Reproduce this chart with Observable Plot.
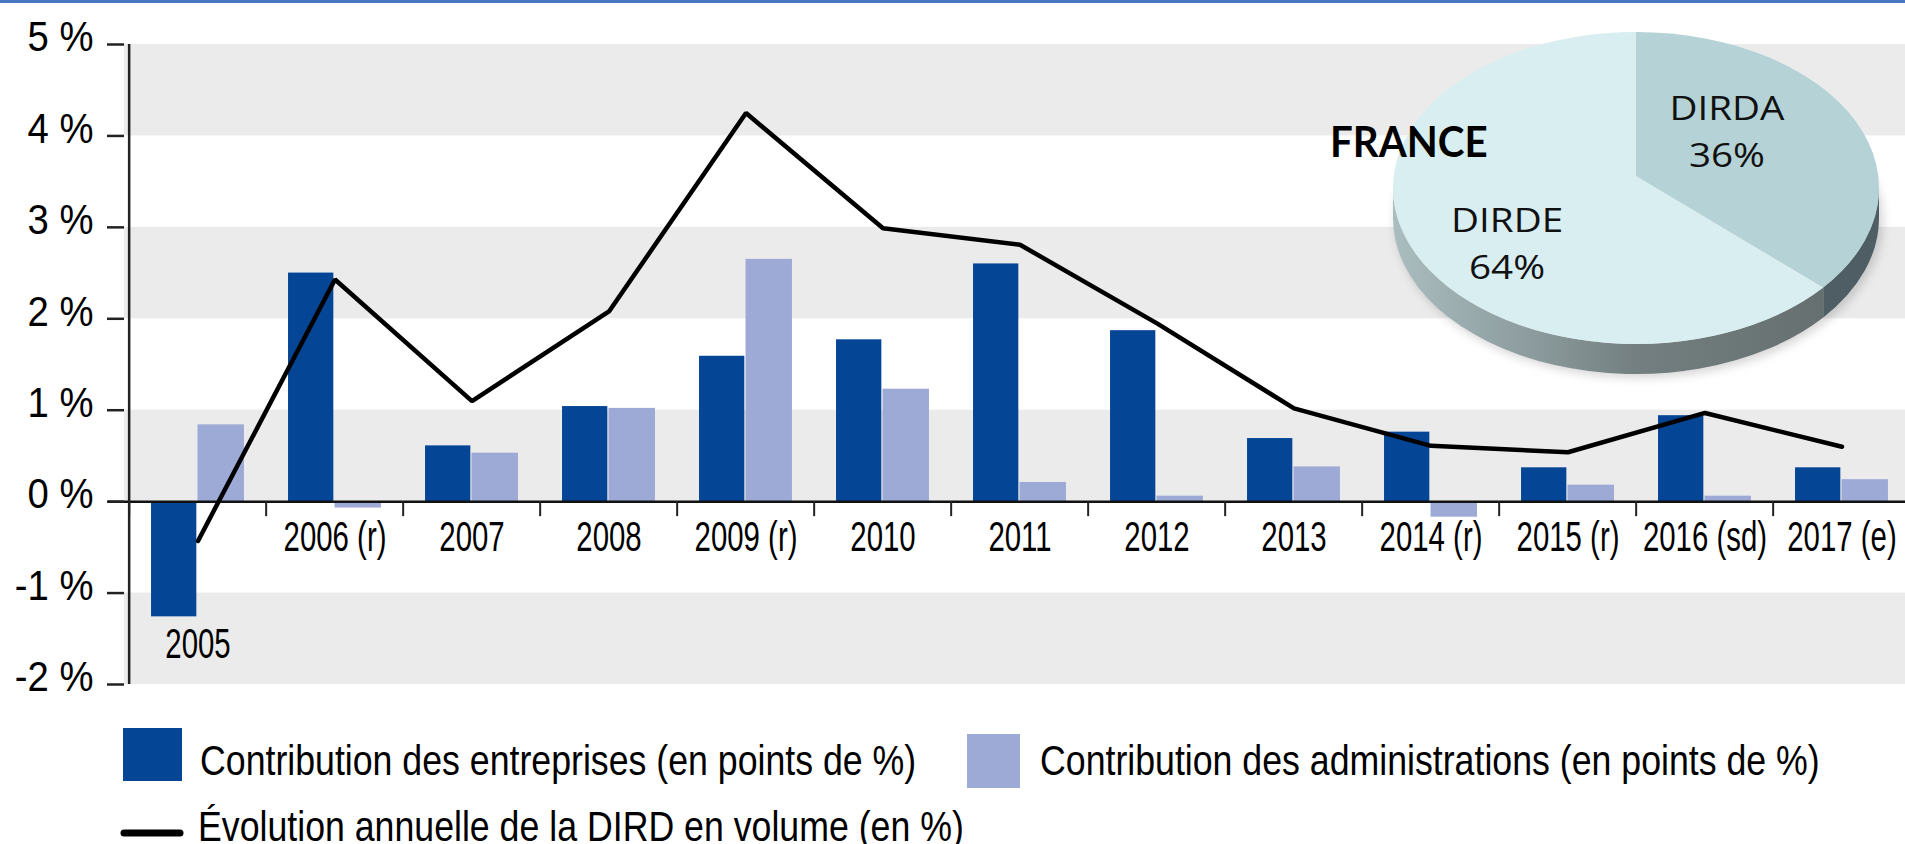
<!DOCTYPE html>
<html><head><meta charset="utf-8">
<script src="https://cdn.jsdelivr.net/npm/d3@7"></script>
<script src="https://cdn.jsdelivr.net/npm/@observablehq/plot@0.6"></script>
<style>
html,body{margin:0;padding:0;background:#fff;overflow:hidden}
#root{position:relative;width:1905px;height:844px;overflow:hidden;background:#fff}
#root svg{display:block;overflow:hidden}
#rule{position:absolute;left:0;top:0;width:1905px;height:3px;background:#4677c0}
</style></head><body>
<div id="root"><div id="chart"></div><div id="legend"></div><div id="rule"></div></div>
<script>
// ---- data ----
const years = ["2005","2006 (r)","2007","2008","2009 (r)","2010","2011","2012","2013","2014 (r)","2015 (r)","2016 (sd)","2017 (e)"];
const entreprises     = [-1.26, 2.50, 0.61, 1.04, 1.59, 1.77, 2.60, 1.87, 0.69, 0.76, 0.37, 0.94, 0.37];
const administrations = [ 0.84,-0.07, 0.53, 1.02, 2.65, 1.23, 0.21, 0.06, 0.38,-0.17, 0.18, 0.06, 0.24];
const dird            = [-0.43, 2.43, 1.10, 2.08, 4.25, 2.99, 2.81, 1.95, 1.02, 0.61, 0.54, 0.97, 0.60];
const yTicks = [-2, -1, 0, 1, 2, 3, 4, 5];
const pieLabels = ["DIRDA", "DIRDE"];
const pieValues = [36, 64];
const pieTitle = "FRANCE";
const legendLabels = [
  "Contribution des entreprises (en points de %)",
  "Contribution des administrations (en points de %)",
  "Évolution annuelle de la DIRD en volume (en %)"
];

// ---- styles ----
const C_ENT = "#044596", C_ADM = "#9eaad6", C_BAND = "#ebebeb";
const FONT = "'Liberation Sans', Arial, Helvetica, sans-serif";

const data = years.map((label, i) => ({label, ent: entreprises[i], adm: administrations[i], dird: dird[i]}));
const gridBands = yTicks.filter(t => t % 2 === 0 && t < d3.max(yTicks)).map(t => [t, t + 1]);
const yFmt = d => `${d} %`;

const X0 = 124, X1 = 1914;
const bw = (X1 - X0) / years.length;

function pieMark() {
  const cx = 1636, cy = 188, rx = 243, ry = 156, depth = 30, hubDy = -12;
  const P = (a, dy = 0) => [cx + rx * Math.sin(a), cy - ry * Math.cos(a) + dy];
  const arcs = d3.pie().sort(null)(pieValues);
  const g = d3.create("svg:g").attr("aria-label", "pie").attr("text-anchor", "start");
  const defs = g.append("defs");
  const gradE = defs.append("linearGradient").attr("id", "sideE").attr("gradientUnits", "userSpaceOnUse")
    .attr("x1", cx - rx).attr("x2", cx + rx).attr("y1", 0).attr("y2", 0);
  [[0, "#aabdbf"], [0.25, "#90a0a2"], [0.5, "#737f80"], [1, "#626b6c"]]
    .forEach(([o, c]) => gradE.append("stop").attr("offset", o).attr("stop-color", c));
  const f = defs.append("filter").attr("id", "pieShadow").attr("x", "-20%").attr("y", "-20%").attr("width", "140%").attr("height", "140%");
  f.append("feGaussianBlur").attr("stdDeviation", 5);
  g.append("ellipse").attr("cx", cx + 3).attr("cy", cy + depth + 3).attr("rx", rx + 1).attr("ry", ry + 1)
    .attr("fill", "rgba(0,0,0,0.16)").attr("filter", "url(#pieShadow)");
  const sideColors = ["#4f5e65", "url(#sideE)"];
  const topColors = ["#b5d3d6", "#d8eef1"];
  arcs.forEach((a, i) => {
    const s = Math.max(a.startAngle, Math.PI / 2), e = Math.min(a.endAngle, 3 * Math.PI / 2);
    if (e > s) {
      const [x0, y0] = P(s), [x1, y1] = P(e), [x2, y2] = P(e, depth), [x3, y3] = P(s, depth);
      g.append("path").attr("d", `M${x0},${y0}A${rx},${ry} 0 0 1 ${x1},${y1}L${x2},${y2}A${rx},${ry} 0 0 0 ${x3},${y3}Z`)
        .attr("fill", sideColors[i]);
    }
  });
  arcs.forEach((a, i) => {
    const [x0, y0] = P(a.startAngle), [x1, y1] = P(a.endAngle);
    const large = a.endAngle - a.startAngle > Math.PI ? 1 : 0;
    g.append("path").attr("d", `M${cx},${cy + hubDy}L${x0},${y0}A${rx},${ry} 0 ${large} 1 ${x1},${y1}Z`)
      .attr("fill", topColors[i]);
  });
  arcs.forEach((a, i) => {
    const mid = (a.startAngle + a.endAngle) / 2;
    const lx = cx + 0.5 * rx * Math.sin(mid) - 19, ly = cy - 0.85 * ry * Math.cos(mid);
    [pieLabels[i], `${pieValues[i]}%`].forEach((t, k) => {
      g.append("text").attr("transform", `translate(${lx},${ly - 12 + k * 47}) scale(1.17,1)`)
        .attr("text-anchor", "middle").attr("font-family", "'Open Sans', sans-serif").attr("font-size", 33)
        .attr("fill", "#111").text(t);
    });
  });
  g.append("text").attr("transform", `translate(${cx - rx - 63},${cy - 31}) scale(0.96,1)`)
    .attr("text-anchor", "start")
    .attr("font-family", "Lato, 'Open Sans', sans-serif").attr("font-weight", 700).attr("font-size", 42)
    .attr("fill", "#000").text(pieTitle);
  return g.node();
}

const chart = Plot.plot({
  width: 1905, height: 700,
  marginLeft: X0, marginRight: 0, marginTop: 44, marginBottom: 16,
  style: {fontFamily: FONT, background: "transparent", overflow: "hidden"},
  x: {domain: years, range: [X0, X1], padding: 0, axis: null},
  y: {domain: [d3.min(yTicks), d3.max(yTicks)], axis: null},
  marks: [
    Plot.rect(gridBands, {y1: d => d[0], y2: d => d[1], fill: C_BAND}),
    pieMark,
    Plot.barY(data, {x: "label", y: "ent", fill: C_ENT, insetLeft: bw * 0.16, insetRight: bw * 0.506}),
    Plot.barY(data, {x: "label", y: "adm", fill: C_ADM, insetLeft: bw * 0.4975, insetRight: bw * 0.16}),
    Plot.ruleY([0], {stroke: "#111", strokeWidth: 2.5, insetLeft: -16}),
    Plot.ruleX(years, {x: d => d, y1: 0, y2: 0, insetBottom: -15, dx: -bw / 2, stroke: "#222", strokeWidth: 2}),
    Plot.ruleX(years.slice(0, 1), {x: d => d, y1: d3.min(yTicks), y2: d3.max(yTicks), dx: -bw / 2, stroke: "#222", strokeWidth: 2.5}),
    Plot.axisY({ticks: yTicks, tickSize: 17, tickFormat: () => "", label: null, stroke: "#222", strokeWidth: 2.5}),
    Plot.text(yTicks, {y: d => d, text: yFmt, frameAnchor: "left", textAnchor: "end", dx: -31, dy: -7,
      fontSize: 43, fontFamily: FONT, fill: "#000"}),
    Plot.line(data, {x: "label", y: "dird", stroke: "#000", strokeWidth: 4.5, strokeLinejoin: "miter"}),
    Plot.text(data.filter(d => d.ent >= 0), {x: "label", y: 0, text: "label", lineAnchor: "top", dy: 20,
      fontSize: 42, fontFamily: FONT, fill: "#000"}),
    Plot.text(data.filter(d => d.ent < 0), {x: "label", y: "ent", text: "label", lineAnchor: "top", dy: 11,
      fontSize: 42, fontFamily: FONT, fill: "#000"})
  ]
});

// horizontally condense the axis texts (condensed typeface look)
const xSet = new Set(years), ySet = new Set(yTicks.map(yFmt));
chart.querySelectorAll("text").forEach(t => {
  const s = xSet.has(t.textContent) ? 0.70 : ySet.has(t.textContent) ? 0.89 : null;
  if (s == null) return;
  const tr = t.getAttribute("transform");
  if (tr) t.setAttribute("transform", tr + ` scale(${s},1)`);
  else {
    const x = +t.getAttribute("x") || 0, y = +t.getAttribute("y") || 0;
    t.removeAttribute("x"); t.removeAttribute("y");
    t.setAttribute("transform", `translate(${x},${y}) scale(${s},1)`);
  }
});
document.getElementById("chart").appendChild(chart);

// ---- legend ----
const legend = d3.create("svg").attr("width", 1905).attr("height", 144);
const items = [
  {label: legendLabels[0], kind: "bar", color: C_ENT, sx: 123, sy: 28, sw: 59, sh: 53, tx: 200, ty: 75},
  {label: legendLabels[1], kind: "bar", color: C_ADM, sx: 967, sy: 34, sw: 53, sh: 54, tx: 1040, ty: 75},
  {label: legendLabels[2], kind: "line", color: "#000", sx: 124, sy: 133, sw: 56, tx: 198, ty: 141}
];
items.forEach(it => {
  if (it.kind === "bar") legend.append("rect").attr("x", it.sx).attr("y", it.sy).attr("width", it.sw).attr("height", it.sh).attr("fill", it.color);
  else legend.append("line").attr("x1", it.sx).attr("x2", it.sx + it.sw).attr("y1", it.sy).attr("y2", it.sy)
    .attr("stroke", it.color).attr("stroke-width", 7).attr("stroke-linecap", "round");
  legend.append("text").attr("transform", `translate(${it.tx},${it.ty}) scale(0.85,1)`)
    .attr("font-family", FONT).attr("font-size", 42).attr("fill", "#000").text(it.label);
});
document.getElementById("legend").appendChild(legend.node());
</script>
</body></html>
